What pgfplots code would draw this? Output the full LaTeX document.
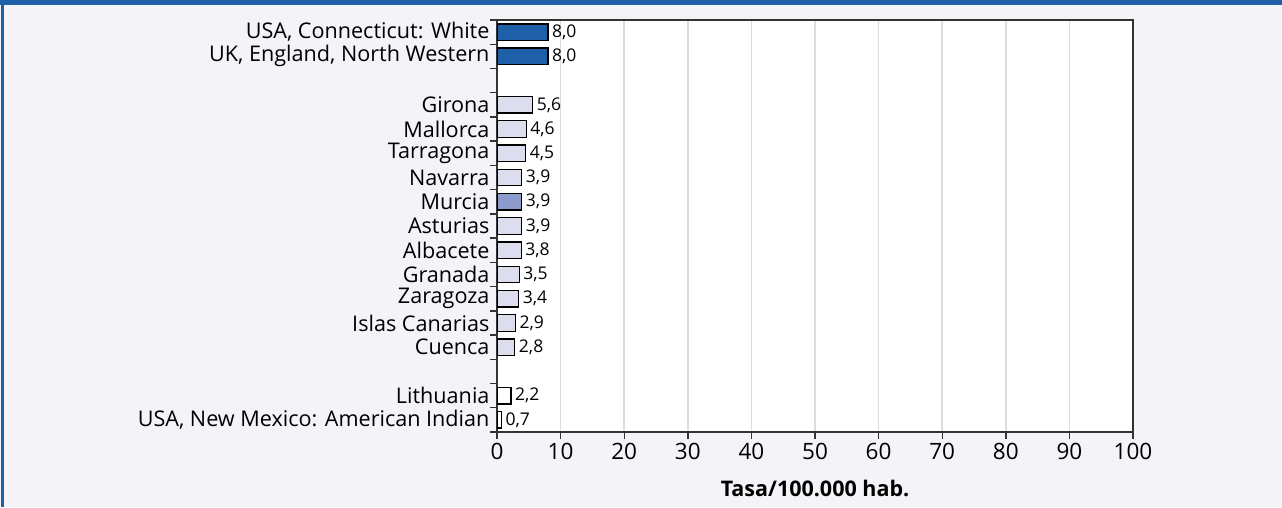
\documentclass[border=0pt]{standalone}
\usepackage{pgfplots}
\pgfplotsset{compat=1.18}
\usepackage{fontspec}
\setmainfont{Open Sans}
\definecolor{hdrblue}{HTML}{1F5FA8}
\definecolor{bgc}{HTML}{F4F4F8}
\definecolor{lightbar}{HTML}{DCDEEE}
\definecolor{midbar}{HTML}{8C9ACC}
\definecolor{gridc}{HTML}{DDDDDD}
\definecolor{axc}{HTML}{333333}
\begin{document}
\begin{tikzpicture}
\fill[bgc] (0,0) rectangle (1282pt,507pt);
\fill[hdrblue] (0,501.5pt) rectangle (1282pt,507pt);
\fill[hdrblue] (0.5pt,0) rectangle (3.5pt,507pt);
\useasboundingbox (0,0) rectangle (1282pt,507pt);
\begin{axis}[
  at={(497pt,75pt)}, anchor=south west,
  scale only axis, width=636pt, height=412pt,
  xmin=0, xmax=100, ymin=-0.5, ymax=16.5, y dir=reverse,
  axis background/.style={fill=white},
  axis line style={axc, line width=1.6pt},
  xtick={0,10,...,100},
  xtick pos=bottom, ytick pos=left,
  xmajorgrids,
  major grid style={gridc, line width=1.6pt},
  ytick={-0.5,0.5,...,16.5},
  yticklabels={},
  extra y ticks={0,1,3,4,5,6,7,8,9,10,11,12,13,15,16},
  extra y tick labels={USA{,} Connecticut: White, UK{,} England{,} North Western, Girona, Mallorca, Tarragona, Navarra, Murcia, Asturias, Albacete, Granada, Zaragoza, Islas Canarias, Cuenca, Lithuania, USA{,} New Mexico: American Indian},
  extra y tick style={major tick length=0pt},
  tick align=outside,
  major tick length=7pt,
  tick style={axc, line width=1.4pt},
  /pgf/number format/assume math mode=true,
  xticklabel style={font=\fontsize{22.5}{26}\selectfont, yshift=-1pt},
  yticklabel style={font=\fontsize{21.6}{25}\selectfont, anchor=east, xshift=-4pt},
  xlabel={\bfseries Tasa/100.000 hab.},
  xlabel style={at={(axis description cs:0.5,0)}, anchor=center, yshift=-56pt, font=\fontsize{21.5}{24}\selectfont},
  xbar, bar width=16.5pt, bar shift=0pt,
  nodes near coords={\pgfmathprintnumber[fixed,fixed zerofill,precision=1,use comma,assume math mode=true]{\pgfplotspointmeta}},
  nodes near coords style={font=\fontsize{17.5}{20}\selectfont, inner sep=3.5pt, black},
]
\addplot[fill=hdrblue, draw=black, line width=1.3pt] coordinates {(8.0,0) (8.0,1)};
\addplot[fill=lightbar, draw=black, line width=1.3pt] coordinates {(5.6,3) (4.6,4) (4.5,5) (3.9,6) (3.9,8) (3.8,9) (3.5,10) (3.4,11) (2.9,12) (2.8,13)};
\addplot[fill=midbar, draw=black, line width=1.3pt] coordinates {(3.9,7)};
\addplot[fill=white, draw=black, line width=1.3pt] coordinates {(2.2,15) (0.7,16)};
\end{axis}
\end{tikzpicture}
\end{document}
